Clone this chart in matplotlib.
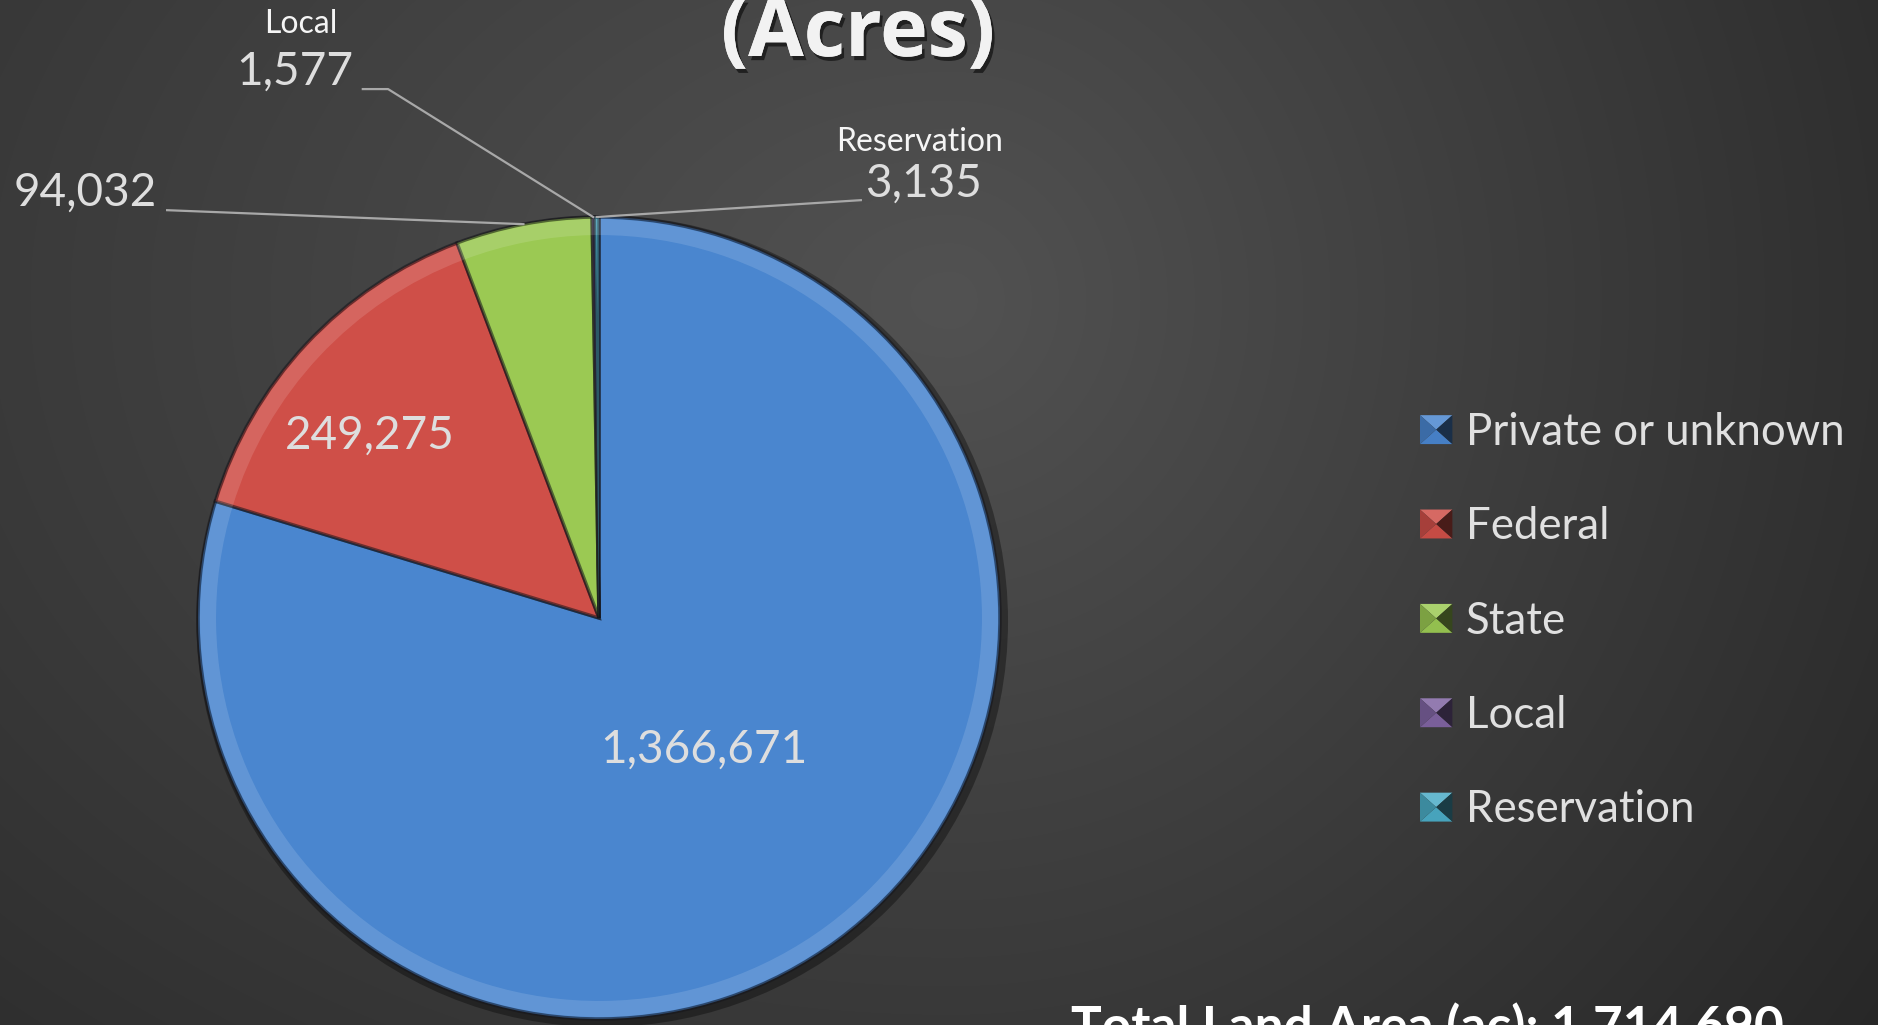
import numpy as np
import matplotlib
matplotlib.use("Agg")
import matplotlib.pyplot as plt
import matplotlib.patheffects as pe
import matplotlib.colors as mcolors
from matplotlib.patches import Wedge, Circle, Polygon
from matplotlib.legend_handler import HandlerBase

# ---------------- data ----------------
categories = ["Private or unknown", "Federal", "State", "Local", "Reservation"]
acres = [1366671, 249275, 94032, 1577, 3135]
value_labels = ["1,366,671", "249,275", "94,032", "1,577", "3,135"]
colors = ["#4a86cf", "#cf4f48", "#9bc953", "#8064a2", "#4bacc6"]
title_text = "(Acres)"
total_text = "Total Land Area (ac): 1,714,690"

# ---------------- figure ----------------
W, H = 1878, 1025
fig = plt.figure(figsize=(W / 100, H / 100), dpi=100)

# background gradient
bg = fig.add_axes([0, 0, 1, 1])
bg.axis("off")
yy, xx = np.mgrid[0:H, 0:W]
gcx, gcy = 950, 300
sx = np.where(xx < gcx, 1400.0, 950.0)
d = np.sqrt(((xx - gcx) / sx) ** 2 + ((yy - gcy) / 1000.0) ** 2)
g = np.clip((82 - 35 * d) / 255.0, 0, 1)
bg.imshow(np.dstack([g, g, g]), aspect="auto", extent=[0, W, H, 0])
bg.set_xlim(0, W)
bg.set_ylim(H, 0)

# pie axes: unit radius = R pixels, centre at (CX, CY) from top-left
R, CX, CY = 401.0, 599.0, 618.0
ax = fig.add_axes([0, 0, 1, 1])
ax.patch.set_alpha(0)

# soft dark outer shadow ring
ax.add_patch(Circle((0.008, -0.008), 1.012, facecolor=(0, 0, 0, 0.35), edgecolor="none", zorder=0))

wedges, _ = ax.pie(acres, colors=colors, startangle=90, counterclock=False,
                   radius=1.0,
                   wedgeprops=dict(edgecolor=(0.08, 0.08, 0.1, 0.55), linewidth=2.5))
ax.set_aspect("auto")
ax.set_xlim(-CX / R, (W - CX) / R)
ax.set_ylim(-(H - CY) / R, CY / R)
ax.axis("off")

# inner bevel highlight ring
for w in wedges:
    ax.add_patch(Wedge((0, 0), 0.995, w.theta1, w.theta2, width=0.04,
                       facecolor=(1, 1, 1, 0.13), edgecolor="none"))

fr = np.array(acres, dtype=float) / np.sum(acres)
ends = 90 - 360 * np.cumsum(fr)
starts = ends + 360 * fr
mids = np.radians((starts + ends) / 2)

num_font = dict(family="Lato", fontsize=33, color="#dedede")
name_font = dict(family="Lato", fontsize=23, color="#f5f5f5")

# inside labels
for i, (r, da) in zip([0, 1], [(0.42, 2.0), (0.73, 4.5)]):
    a = mids[i] + np.radians(da)
    ax.text(r * np.cos(a), r * np.sin(a), value_labels[i], ha="center", va="center", **num_font)

lc = "#a8a8a8"
# State label (outside, left)
ax.text(-1.102, 1.060, value_labels[2], ha="right", va="center", **num_font)
ax.plot([-1.077, np.cos(mids[2])], [1.017, np.sin(mids[2])], color=lc, lw=1.6)

# Local label
ax.text(-0.743, 1.481, categories[3], ha="center", va="center", **name_font)
ax.text(-0.613, 1.362, value_labels[3], ha="right", va="center", **num_font)
ax.plot([-0.589, -0.526, np.cos(mids[3])], [1.319, 1.319, np.sin(mids[3])], color=lc, lw=1.6)

# Reservation label
ax.text(0.800, 1.187, categories[4], ha="center", va="center", **name_font)
ax.text(0.663, 1.082, value_labels[4], ha="left", va="center", **num_font)
ax.plot([0.653, np.cos(mids[4])], [1.042, np.sin(mids[4])], color=lc, lw=1.6)


# bevelled legend keys
class BevelHandler(HandlerBase):
    def create_artists(self, legend, orig_handle, xdescent, ydescent,
                       width, height, fontsize, trans):
        c = np.array(mcolors.to_rgb(orig_handle.get_facecolor()))
        x0, y0 = -xdescent, -ydescent
        x1, y1 = x0 + width, y0 + height
        cx, cy = (x0 + x1) / 2, (y0 + y1) / 2
        light = np.clip(c + (1 - c) * 0.15, 0, 1)
        mid = np.clip(c * 0.95, 0, 1)
        dark = np.clip(c * 0.35, 0, 1)
        tris = [
            ([(x0, y1), (x1, y1), (cx, cy)], light),   # top
            ([(x0, y0), (x1, y0), (cx, cy)], mid),     # bottom
            ([(x0, y0), (x0, y1), (cx, cy)], c * 0.8),  # left
            ([(x1, y0), (x1, y1), (cx, cy)], dark),    # right
        ]
        arts = []
        for pts, col in tris:
            p = Polygon(pts, closed=True, facecolor=col, edgecolor="none", transform=trans)
            arts.append(p)
        return arts


fig.legend(wedges, categories, loc="upper left",
           bbox_to_anchor=(1420 / W, 1 - 412 / H), frameon=False,
           prop=dict(family="Lato", size=31.5), labelcolor="#e0e0e0",
           handlelength=0.74, handleheight=0.64, handletextpad=0.3,
           labelspacing=1.22, borderpad=0, borderaxespad=0,
           handler_map={Wedge: BevelHandler()})

# title (partially cut off at top)
fig.text(858 / W, 1 - 56 / H, title_text, ha="center", va="baseline",
         fontsize=58, weight="bold", family="Open Sans", color="#f2f2f2",
         path_effects=[pe.withSimplePatchShadow(offset=(2, -3), shadow_rgbFace="black", alpha=0.55),
                       pe.Normal()])

# total text (cut off at bottom)
fig.text(1071 / W, 1 - 1043 / H, total_text, ha="left", va="baseline",
         fontsize=37, weight="bold", family="Lato", color="#ffffff")

fig.savefig("out.png", dpi=100)
